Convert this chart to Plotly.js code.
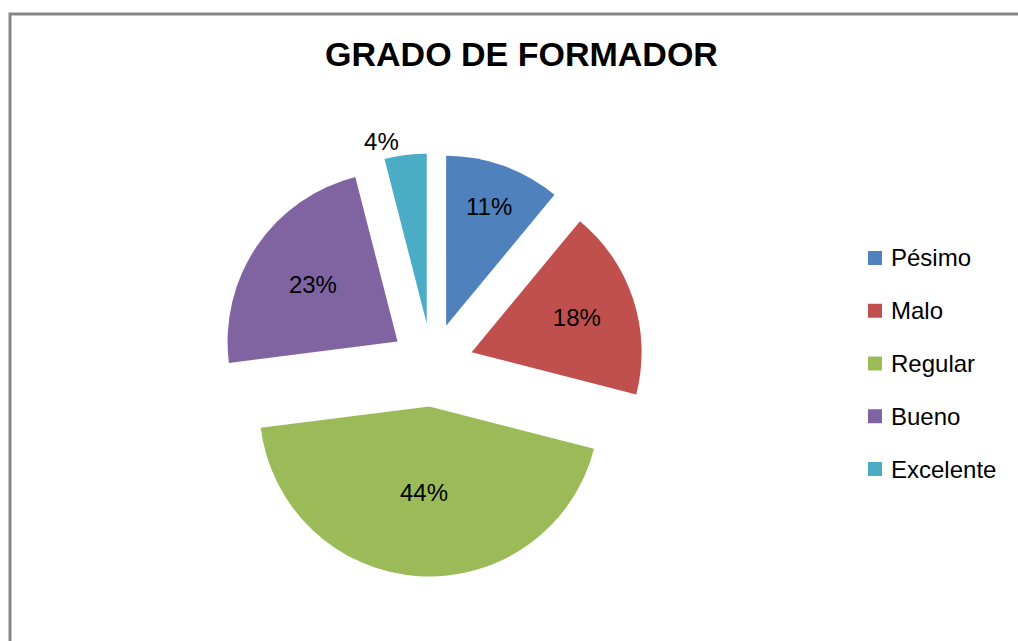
<!DOCTYPE html>
<html>
<head>
<meta charset="utf-8">
<script src="https://cdn.plot.ly/plotly-3.0.1.min.js"></script>
<style>
html,body{margin:0;padding:0;background:#fff;}
#chart{width:1018px;height:641px;}
</style>
</head>
<body>
<div id="chart"></div>
<script>
// ---- data ----
const categories = ['Pésimo', 'Malo', 'Regular', 'Bueno', 'Excelente'];
const values = [11, 18, 44, 23, 4];
const colors = ['#4F81BD', '#C0504D', '#9BBB59', '#8064A2', '#4BACC6'];
const chartTitle = 'GRADO DE FORMADOR';

// ---- layout helpers (pixel -> paper) ----
const W = 1018, H = 641;
const px = x => x / W;
const py = y => 1 - y / H;

const font = 'Liberation Sans, Arial, sans-serif';

// pie geometry (pixels)
const cx = 432, cy = 365, rad = 170, pullFrac = 0.245;
const half = rad * (1 + pullFrac);

const trace = {
  type: 'pie',
  labels: categories,
  values: values,
  sort: false,
  direction: 'clockwise',
  rotation: 0,
  pull: categories.map(() => pullFrac),
  marker: { colors: colors, line: { width: 0 } },
  texttemplate: '%{percent:.0%}',
  textposition: categories.map((c, i) => i === categories.length - 1 ? 'outside' : 'inside'),
  insidetextorientation: 'horizontal',
  textfont: { family: font, size: 24, color: '#000' },
  outsidetextfont: { family: font, size: 24, color: '#000' },
  insidetextfont: { family: font, size: 24, color: '#000' },
  showlegend: false,
  hoverinfo: 'label+percent',
  domain: { x: [px(cx - half), px(cx + half)], y: [py(cy + half), py(cy - half)] }
};

// manual legend built from the data arrays
const rowY0 = 258, rowGap = 52.75;
const shapes = [
  {
    type: 'path', xref: 'paper', yref: 'paper',
    path: 'M ' + px(10) + ' ' + py(641) + ' L ' + px(10) + ' ' + py(14) + ' L ' + px(1018) + ' ' + py(14),
    line: { color: '#878787', width: 3 }
  }
];
const annotations = [];
categories.forEach((c, i) => {
  const yc = rowY0 + i * rowGap;
  shapes.push({
    type: 'rect', xref: 'paper', yref: 'paper',
    x0: px(868), x1: px(882), y0: py(yc + 7), y1: py(yc - 7),
    fillcolor: colors[i], line: { width: 0 }
  });
  annotations.push({
    xref: 'paper', yref: 'paper', x: px(889), y: py(yc),
    xanchor: 'left', yanchor: 'middle', showarrow: false,
    text: c, font: { family: font, size: 24, color: '#000' }
  });
});

const layout = {
  width: W, height: H,
  margin: { l: 0, r: 0, t: 0, b: 0 },
  paper_bgcolor: '#fff',
  plot_bgcolor: '#fff',
  title: {
    text: chartTitle,
    font: { family: font, size: 34, color: '#000', weight: 'bold' },
    x: px(521.5), xanchor: 'center', xref: 'paper',
    y: py(54.5), yanchor: 'middle', yref: 'container'
  },
  showlegend: false,
  shapes: shapes,
  annotations: annotations
};

Plotly.newPlot('chart', [trace], layout, { displayModeBar: false, staticPlot: true });
</script>
</body>
</html>
